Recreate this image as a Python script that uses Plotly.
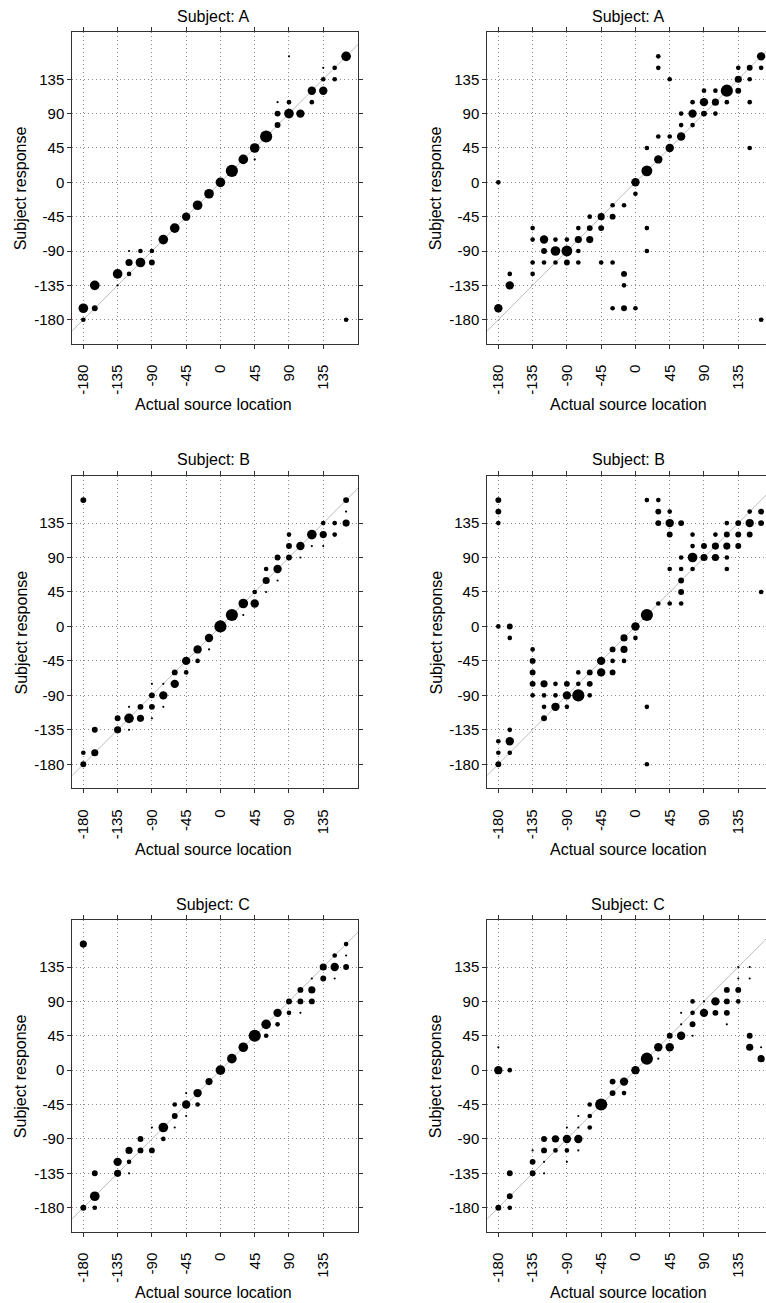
import plotly.graph_objects as go

W, H = 766, 1303

# ---------------- data: (actual source location, subject response, count) ----------------
TICKS = [-180, -135, -90, -45, 0, 45, 90, 135]
TITLES = ["Subject: A", "Subject: A", "Subject: B", "Subject: B", "Subject: C", "Subject: C"]
X_LABEL = "Actual source location"
Y_LABEL = "Subject response"

A1 = [(165, 165, 7), (90, 165, 1), (135, 150, 1), (150, 150, 3), (135, 135, 3), (150, 135, 3),
      (120, 120, 6), (135, 120, 6), (75, 105, 1), (90, 105, 3), (120, 105, 3), (75, 90, 4),
      (90, 90, 7), (105, 90, 6), (75, 75, 4), (60, 60, 9), (45, 45, 7), (45, 30, 1), (30, 30, 7),
      (15, 15, 9), (0, 0, 7), (-15, -15, 7), (-30, -30, 7), (-45, -45, 6), (-60, -60, 7),
      (-75, -75, 7), (-120, -90, 1), (-105, -90, 3), (-90, -90, 3), (-120, -105, 5),
      (-105, -105, 7), (-90, -105, 4), (-135, -120, 7), (-120, -120, 3), (-135, -135, 1),
      (-165, -135, 7), (-180, -165, 7), (-165, -165, 4), (-180, -180, 3), (165, -180, 3)]

A2 = [(30, 165, 3), (30, 150, 3), (165, 165, 6), (135, 150, 3), (150, 150, 4), (165, 150, 3),
      (45, 135, 3), (135, 135, 5), (150, 135, 3), (90, 120, 3), (105, 120, 3), (120, 120, 9),
      (135, 120, 4), (75, 105, 3), (90, 105, 6), (105, 105, 5), (120, 105, 3), (150, 105, 3),
      (60, 90, 3), (75, 90, 6), (90, 90, 4), (105, 90, 3), (60, 75, 3), (75, 75, 3), (30, 60, 3),
      (45, 60, 3), (60, 60, 6), (15, 45, 3), (45, 45, 6), (150, 45, 3), (30, 30, 6), (15, 15, 8),
      (0, 0, 6), (-180, 0, 3), (0, -15, 3), (-30, -30, 3), (-15, -30, 3), (-45, -45, 5),
      (-30, -45, 4), (-60, -45, 3), (-135, -60, 3), (-75, -60, 3), (-60, -60, 4), (-45, -60, 4),
      (15, -60, 3), (-135, -75, 3), (-120, -75, 6), (-105, -75, 3), (-90, -75, 3), (-75, -75, 5),
      (-60, -75, 5), (-120, -90, 4), (-105, -90, 7), (-90, -90, 8), (-75, -90, 3), (15, -90, 3),
      (-135, -105, 3), (-120, -105, 3), (-105, -105, 3), (-90, -105, 4), (-75, -105, 3),
      (-45, -105, 3), (-30, -105, 3), (-165, -120, 3), (-135, -120, 3), (-15, -120, 4),
      (-165, -135, 6), (-15, -135, 3), (-180, -165, 6), (-30, -165, 3), (-15, -165, 4),
      (0, -165, 3), (165, -180, 3)]

B1 = [(-180, 165, 4), (165, 165, 4), (165, 150, 1), (135, 135, 3), (150, 135, 3), (165, 135, 5),
      (120, 120, 7), (135, 120, 5), (150, 120, 3), (90, 120, 3), (90, 105, 4), (105, 105, 6),
      (120, 105, 1), (135, 105, 1), (75, 90, 4), (90, 90, 4), (105, 90, 1), (60, 75, 3),
      (75, 75, 6), (60, 60, 5), (75, 60, 1), (45, 45, 3), (60, 45, 1), (30, 30, 7), (45, 30, 6),
      (30, 15, 1), (15, 15, 9), (0, 0, 9), (-15, -15, 6), (-15, -30, 1), (-30, -30, 6),
      (-30, -45, 3), (-45, -45, 6), (-45, -60, 3), (-60, -60, 4), (-60, -75, 6), (-75, -75, 1),
      (-90, -75, 1), (-75, -90, 6), (-90, -90, 4), (-105, -105, 4), (-90, -105, 4),
      (-120, -105, 1), (-75, -105, 1), (-135, -120, 4), (-120, -120, 7), (-105, -120, 5),
      (-90, -120, 1), (-135, -135, 5), (-120, -135, 1), (-165, -135, 4), (-180, -165, 3),
      (-165, -165, 5), (-180, -180, 4)]

B2 = [(-180, 165, 4), (-180, 150, 4), (-180, 135, 3), (15, 165, 3), (30, 165, 3), (30, 150, 4),
      (45, 150, 3), (30, 135, 4), (45, 135, 6), (60, 135, 4), (45, 120, 4), (75, 120, 3),
      (105, 120, 3), (120, 135, 3), (120, 120, 4), (135, 135, 4), (135, 120, 4), (150, 150, 3),
      (150, 135, 6), (150, 120, 4), (165, 150, 4), (165, 135, 4), (75, 105, 3), (90, 105, 4),
      (105, 105, 5), (120, 105, 5), (135, 105, 4), (60, 90, 3), (75, 90, 7), (90, 90, 5),
      (105, 90, 5), (120, 90, 3), (45, 75, 3), (60, 75, 3), (75, 75, 3), (120, 75, 3),
      (60, 60, 4), (60, 45, 4), (165, 45, 3), (30, 30, 3), (45, 30, 3), (60, 30, 3), (15, 15, 9),
      (0, 0, 6), (-180, 0, 3), (-165, 0, 4), (-165, -15, 3), (0, -15, 3), (-15, -15, 5),
      (-30, -30, 4), (-15, -30, 5), (-135, -30, 3), (-135, -45, 4), (-45, -45, 6), (-30, -45, 3),
      (-15, -45, 3), (-135, -60, 4), (-75, -60, 3), (-60, -60, 4), (-45, -60, 6), (-30, -60, 4),
      (-135, -75, 4), (-120, -75, 5), (-105, -75, 3), (-90, -75, 4), (-75, -75, 3),
      (-60, -75, 4), (-135, -90, 3), (-120, -90, 3), (-105, -90, 3), (-90, -90, 6),
      (-75, -90, 9), (-60, -90, 3), (-120, -105, 3), (-105, -105, 6), (-90, -105, 3),
      (15, -105, 3), (-120, -120, 4), (-165, -135, 3), (-180, -150, 3), (-165, -150, 6),
      (-180, -165, 3), (-165, -165, 3), (-180, -180, 4), (15, -180, 3)]

C1 = [(-180, 165, 5), (165, 165, 3), (150, 150, 3), (165, 150, 1), (135, 135, 5), (150, 135, 6),
      (165, 135, 4), (120, 120, 1), (135, 120, 4), (150, 120, 1), (105, 105, 4), (120, 105, 5),
      (90, 90, 4), (105, 90, 4), (120, 90, 4), (90, 75, 3), (105, 75, 1), (75, 75, 6),
      (60, 60, 7), (75, 60, 3), (60, 45, 3), (45, 45, 9), (30, 30, 7), (15, 15, 7), (0, 0, 7),
      (-15, -15, 5), (-30, -30, 6), (-45, -30, 1), (-30, -45, 3), (-45, -45, 6), (-60, -45, 3),
      (-60, -60, 4), (-45, -60, 1), (-75, -75, 7), (-60, -75, 1), (-90, -75, 1), (-105, -90, 4),
      (-75, -90, 3), (-120, -105, 5), (-105, -105, 4), (-90, -105, 4), (-135, -120, 6),
      (-120, -120, 3), (-165, -135, 4), (-135, -135, 5), (-120, -135, 1), (-165, -165, 7),
      (-180, -180, 4), (-165, -180, 3)]

C2 = [(-180, 30, 1), (-180, 0, 6), (-165, 0, 3), (135, 135, 1), (150, 135, 1), (135, 120, 1),
      (150, 120, 1), (120, 105, 4), (135, 105, 4), (75, 90, 3), (90, 90, 1), (105, 90, 6),
      (120, 90, 4), (135, 90, 3), (60, 75, 1), (75, 75, 3), (90, 75, 6), (105, 75, 4),
      (120, 75, 4), (60, 60, 1), (75, 60, 4), (120, 60, 1), (75, 45, 1), (45, 45, 4), (60, 45, 6),
      (150, 45, 4), (30, 30, 6), (45, 30, 6), (150, 30, 5), (165, 30, 1), (165, 15, 5),
      (15, 15, 9), (30, 15, 1), (0, 0, 6), (-30, -15, 4), (-15, -15, 6), (-30, -30, 4),
      (-15, -30, 3), (-60, -45, 3), (-45, -45, 9), (-75, -60, 1), (-60, -60, 3), (-90, -75, 1),
      (-75, -75, 1), (-60, -75, 3), (-120, -90, 4), (-105, -90, 5), (-90, -90, 6), (-75, -90, 6),
      (-135, -105, 1), (-120, -105, 4), (-105, -105, 3), (-90, -105, 3), (-75, -105, 1),
      (-90, -120, 1), (-135, -120, 4), (-120, -120, 1), (-165, -135, 4), (-135, -135, 4),
      (-120, -135, 1), (-165, -165, 4), (-180, -180, 4), (-165, -180, 3)]

PANELS = [A1, A2, B1, B2, C1, C2]

# ---------------- geometry / style (pixel positions) ----------------
XMIN, XMAX = -194.5, 181.0
YMIN, YMAX = -211.4, 196.5
COL_X = [(72.3, 358.3), (487.3, 773.3)]          # full panel extents (px)
ROW_Y = [(32.3, 343.7), (476.0, 788.3), (920.0, 1231.7)]
FONT = "Liberation Sans, Arial, Helvetica, sans-serif"
FRAME = "#333333"
GRID = "#8a8a8a"


def size_of(n):
    return 0.9 + 1.25 * n


def fx(px):
    return px / W


def fy(py):
    return 1 - py / H


fig = go.Figure()
layout = dict(width=W, height=H, margin=dict(l=0, r=0, t=0, b=0),
              paper_bgcolor="white", plot_bgcolor="white", showlegend=False,
              font=dict(family=FONT, size=15, color="black"))
annotations = []

for i, pts in enumerate(PANELS):
    r, c = divmod(i, 2)
    x0, x1 = COL_X[c]
    y0, y1 = ROW_Y[r]
    vis_x1 = min(x1, W)
    xmax = XMIN + (XMAX - XMIN) * (vis_x1 - x0) / (x1 - x0)
    k = "" if i == 0 else str(i + 1)
    cropped = vis_x1 < x1

    common = dict(tickvals=TICKS, ticktext=[str(t) for t in TICKS], ticks="outside", ticklen=4,
                  tickwidth=1, tickcolor=FRAME, showline=True, linecolor=FRAME, linewidth=1,
                  showgrid=True, gridcolor=GRID, gridwidth=1, griddash="1px,3px",
                  zeroline=False, tickfont=dict(family=FONT, size=15, color="black"),
                  fixedrange=True)
    layout["xaxis" + k] = dict(common, domain=[fx(x0), min(fx(vis_x1), 1.0)],
                               range=[XMIN, xmax], anchor="y" + k, mirror="ticks",
                               tickangle=-90, ticklabelstandoff=10)
    layout["yaxis" + k] = dict(common, domain=[fy(y1), fy(y0)], range=[YMIN, YMAX],
                               anchor="x" + k, mirror=False if cropped else "ticks")

    # reference line y = x
    fig.add_trace(go.Scatter(x=[YMIN, YMAX], y=[YMIN, YMAX], mode="lines",
                             line=dict(color="#bdbdbd", width=1), hoverinfo="skip",
                             xaxis="x" + k, yaxis="y" + k))
    xs = [p[0] for p in pts]
    ys = [p[1] for p in pts]
    ns = [p[2] for p in pts]
    fig.add_trace(go.Scatter(x=xs, y=ys, mode="markers",
                             marker=dict(color="black", opacity=1,
                                         size=[size_of(n) for n in ns],
                                         line=dict(width=0)),
                             xaxis="x" + k, yaxis="y" + k))

    cx = (x0 + x1) / 2 - 2
    annotations.append(dict(text=TITLES[i], x=fx(cx), y=fy(y0 - 16), xref="paper",
                            yref="paper", showarrow=False, xanchor="center", yanchor="middle",
                            font=dict(family=FONT, size=16, color="black")))
    annotations.append(dict(text=X_LABEL, x=fx(cx), y=fy(y1 + 61), xref="paper",
                            yref="paper", showarrow=False, xanchor="center", yanchor="middle",
                            font=dict(family=FONT, size=16, color="black")))
    annotations.append(dict(text=Y_LABEL, x=fx(x0 - 51), y=fy((y0 + y1) / 2),
                            xref="paper", yref="paper", showarrow=False, textangle=-90,
                            xanchor="center", yanchor="middle",
                            font=dict(family=FONT, size=16, color="black")))

layout["annotations"] = annotations
fig.update_layout(**layout)
# remove the browser's default 8px body margin so the figure sits at the window origin
fig.write_html("out.html", config={"displayModeBar": False},
               post_script="document.body.style.margin='0';")
